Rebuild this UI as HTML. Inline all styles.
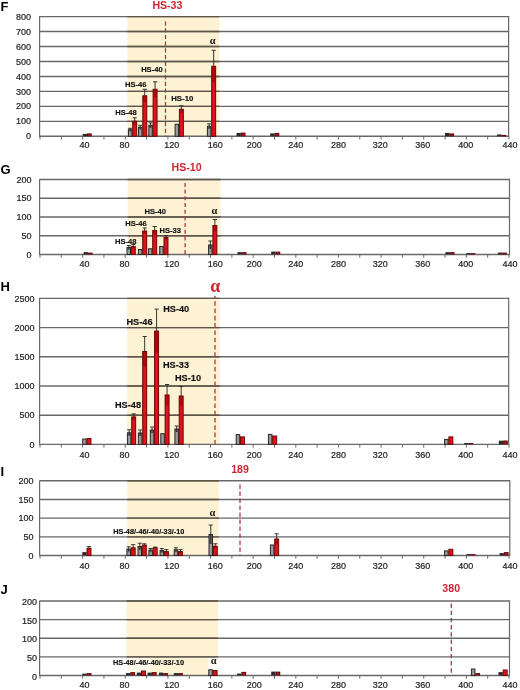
<!DOCTYPE html>
<html><head><meta charset="utf-8"><title>Chart</title>
<style>
html,body{margin:0;padding:0;background:#fff;}
body{width:520px;height:690px;overflow:hidden;}
svg{display:block;will-change:transform;}
.g{stroke:#686868;stroke-width:1.4;fill:none;}
.gs{stroke:#5e5446;stroke-width:1.4;fill:none;}
.t{stroke:#686868;stroke-width:1;}
.d{stroke:#b0303e;stroke-width:1.25;}
.gb{fill:#9a9a9a;stroke:#262626;stroke-width:1;}
.rb{fill:#e0101c;stroke:#6a0808;stroke-width:1;}
.eg{stroke:#2a2a2a;stroke-width:0.95;fill:none;}
.er{stroke:#2a2a2a;stroke-width:0.95;fill:none;}
text{font-family:"Liberation Sans",sans-serif;}
.yl,.xl{font-size:9px;fill:#222;stroke:#222;stroke-width:0.2;}
.pl{font-size:13px;font-weight:bold;fill:#000;}
.rt{font-weight:bold;fill:#cf2430;}
.bl{font-weight:bold;fill:#111;stroke:#111;stroke-width:0.15;}
.al{font-family:"Liberation Serif",serif;font-weight:bold;fill:#111;}
.ba{font-family:"Liberation Serif",serif;font-weight:bold;fill:#cf2430;}
</style></head>
<body>
<svg width="520" height="690" viewBox="0 0 520 690">
<rect x="127.3" y="16.6" width="92.1" height="119.7" fill="#fdf2d4"/>
<line x1="40" y1="16.6" x2="508.6" y2="16.6" class="g"/>
<line x1="127.3" y1="16.6" x2="219.4" y2="16.6" class="gs"/>
<line x1="40" y1="31.56" x2="508.6" y2="31.56" class="g"/>
<line x1="127.3" y1="31.56" x2="219.4" y2="31.56" class="gs"/>
<line x1="40" y1="46.53" x2="508.6" y2="46.53" class="g"/>
<line x1="127.3" y1="46.53" x2="219.4" y2="46.53" class="gs"/>
<line x1="40" y1="61.49" x2="508.6" y2="61.49" class="g"/>
<line x1="127.3" y1="61.49" x2="219.4" y2="61.49" class="gs"/>
<line x1="40" y1="76.45" x2="508.6" y2="76.45" class="g"/>
<line x1="127.3" y1="76.45" x2="219.4" y2="76.45" class="gs"/>
<line x1="40" y1="91.41" x2="508.6" y2="91.41" class="g"/>
<line x1="127.3" y1="91.41" x2="219.4" y2="91.41" class="gs"/>
<line x1="40" y1="106.38" x2="508.6" y2="106.38" class="g"/>
<line x1="127.3" y1="106.38" x2="219.4" y2="106.38" class="gs"/>
<line x1="40" y1="121.34" x2="508.6" y2="121.34" class="g"/>
<line x1="127.3" y1="121.34" x2="219.4" y2="121.34" class="gs"/>
<line x1="39.6" y1="16" x2="39.6" y2="136.9" class="g" style="stroke-width:1.2"/>
<line x1="508.6" y1="16" x2="508.6" y2="136.9" class="g" style="stroke-width:1.2"/>
<line x1="40" y1="136.3" x2="508.6" y2="136.3" class="g"/>
<line x1="40" y1="136.3" x2="40" y2="139.5" class="t"/>
<line x1="61.32" y1="136.3" x2="61.32" y2="139.5" class="t"/>
<line x1="82.64" y1="136.3" x2="82.64" y2="139.5" class="t"/>
<line x1="103.95" y1="136.3" x2="103.95" y2="139.5" class="t"/>
<line x1="125.27" y1="136.3" x2="125.27" y2="139.5" class="t"/>
<line x1="146.59" y1="136.3" x2="146.59" y2="139.5" class="t"/>
<line x1="167.91" y1="136.3" x2="167.91" y2="139.5" class="t"/>
<line x1="189.23" y1="136.3" x2="189.23" y2="139.5" class="t"/>
<line x1="210.55" y1="136.3" x2="210.55" y2="139.5" class="t"/>
<line x1="231.86" y1="136.3" x2="231.86" y2="139.5" class="t"/>
<line x1="253.18" y1="136.3" x2="253.18" y2="139.5" class="t"/>
<line x1="274.5" y1="136.3" x2="274.5" y2="139.5" class="t"/>
<line x1="295.82" y1="136.3" x2="295.82" y2="139.5" class="t"/>
<line x1="317.14" y1="136.3" x2="317.14" y2="139.5" class="t"/>
<line x1="338.45" y1="136.3" x2="338.45" y2="139.5" class="t"/>
<line x1="359.77" y1="136.3" x2="359.77" y2="139.5" class="t"/>
<line x1="381.09" y1="136.3" x2="381.09" y2="139.5" class="t"/>
<line x1="402.41" y1="136.3" x2="402.41" y2="139.5" class="t"/>
<line x1="423.73" y1="136.3" x2="423.73" y2="139.5" class="t"/>
<line x1="445.05" y1="136.3" x2="445.05" y2="139.5" class="t"/>
<line x1="466.36" y1="136.3" x2="466.36" y2="139.5" class="t"/>
<line x1="487.68" y1="136.3" x2="487.68" y2="139.5" class="t"/>
<line x1="509" y1="136.3" x2="509" y2="139.5" class="t"/>
<line x1="165.5" y1="21.5" x2="165.5" y2="136.3" class="d" stroke-dasharray="4.2 2.5" stroke-dashoffset="0"/>
<rect x="82.7" y="133.9" width="4.3" height="2.4" fill="#2a2a2a"/>
<rect x="87" y="133.4" width="4.75" height="2.9" fill="#5a0a0e"/>
<rect x="88.2" y="134.4" width="2.35" height="1.3" fill="#c01020"/>
<rect x="128.4" y="129.8" width="3.5" height="6.5" class="gb"/>
<rect x="128.6" y="129.8" width="3.1" height="1.5" fill="#333" opacity="0.45"/>
<path d="M130.15 131.3V128.3M128.15 128.3H132.15" class="eg"/>
<rect x="132.7" y="121.3" width="3.95" height="15" class="rb"/>
<rect x="132.9" y="121.3" width="3.55" height="3.5" fill="#8a0000" opacity="0.55"/>
<path d="M134.68 121.3V117.8M132.58 117.8H136.78" class="er"/>
<rect x="138.5" y="127.3" width="3.5" height="9" class="gb"/>
<rect x="138.7" y="127.3" width="3.1" height="2" fill="#333" opacity="0.45"/>
<path d="M140.25 129.3V125.3M138.25 125.3H142.25" class="eg"/>
<rect x="142.8" y="95.8" width="3.95" height="40.5" class="rb"/>
<rect x="143" y="95.8" width="3.55" height="6.5" fill="#8a0000" opacity="0.55"/>
<path d="M144.78 95.8V89.3M142.68 89.3H146.88" class="er"/>
<rect x="148.8" y="125.3" width="3.5" height="11" class="gb"/>
<rect x="149" y="125.3" width="3.1" height="2.5" fill="#333" opacity="0.45"/>
<path d="M150.55 127.8V122.8M148.55 122.8H152.55" class="eg"/>
<rect x="153.1" y="89.3" width="3.95" height="47" class="rb"/>
<rect x="153.3" y="89.3" width="3.55" height="7.5" fill="#8a0000" opacity="0.55"/>
<path d="M155.08 89.3V81.8M152.98 81.8H157.18" class="er"/>
<rect x="175.1" y="124.3" width="3.5" height="12" class="gb"/>
<rect x="179.4" y="109.3" width="3.95" height="27" class="rb"/>
<rect x="179.6" y="109.3" width="3.55" height="3.5" fill="#8a0000" opacity="0.55"/>
<path d="M181.38 109.3V105.8M179.28 105.8H183.47" class="er"/>
<rect x="207.4" y="126.3" width="3.5" height="10" class="gb"/>
<rect x="207.6" y="126.3" width="3.1" height="2.5" fill="#333" opacity="0.45"/>
<path d="M209.15 128.8V123.8M207.15 123.8H211.15" class="eg"/>
<rect x="211.7" y="66.3" width="3.95" height="70" class="rb"/>
<rect x="211.9" y="66.3" width="3.55" height="16" fill="#8a0000" opacity="0.55"/>
<path d="M213.68 66.3V50.3M211.58 50.3H215.78" class="er"/>
<rect x="236.5" y="132.9" width="4.3" height="3.4" fill="#2a2a2a"/>
<rect x="240.8" y="132.6" width="4.75" height="3.7" fill="#5a0a0e"/>
<rect x="242" y="133.6" width="2.35" height="2.1" fill="#c01020"/>
<rect x="270.2" y="133.4" width="4.3" height="2.9" fill="#2a2a2a"/>
<rect x="274.5" y="132.9" width="4.75" height="3.4" fill="#5a0a0e"/>
<rect x="275.7" y="133.9" width="2.35" height="1.8" fill="#c01020"/>
<rect x="445" y="132.9" width="4.3" height="3.4" fill="#2a2a2a"/>
<rect x="449.3" y="133.4" width="4.75" height="2.9" fill="#5a0a0e"/>
<rect x="450.5" y="134.4" width="2.35" height="1.3" fill="#c01020"/>
<rect x="497.1" y="134.4" width="4.3" height="1.9" fill="#2a2a2a"/>
<rect x="501.4" y="134.9" width="4.75" height="1.4" fill="#5a0a0e"/>
<rect x="502.6" y="135.9" width="2.35" height="0.6" fill="#c01020"/>
<text x="31.1" y="139.4" class="yl" text-anchor="end">0</text>
<text x="31.1" y="124.44" class="yl" text-anchor="end">100</text>
<text x="31.1" y="109.47" class="yl" text-anchor="end">200</text>
<text x="31.1" y="94.51" class="yl" text-anchor="end">300</text>
<text x="31.1" y="79.55" class="yl" text-anchor="end">400</text>
<text x="31.1" y="64.59" class="yl" text-anchor="end">500</text>
<text x="31.1" y="49.63" class="yl" text-anchor="end">600</text>
<text x="31.1" y="34.66" class="yl" text-anchor="end">700</text>
<text x="31.1" y="19.7" class="yl" text-anchor="end">800</text>
<text x="84.44" y="148.3" class="xl" text-anchor="middle">40</text>
<text x="124.57" y="148.3" class="xl" text-anchor="middle">80</text>
<text x="171.71" y="148.3" class="xl" text-anchor="middle">120</text>
<text x="215.15" y="148.3" class="xl" text-anchor="middle">160</text>
<text x="254.18" y="148.3" class="xl" text-anchor="middle">200</text>
<text x="295.82" y="148.3" class="xl" text-anchor="middle">240</text>
<text x="338.45" y="148.3" class="xl" text-anchor="middle">280</text>
<text x="380.39" y="148.3" class="xl" text-anchor="middle">320</text>
<text x="422.83" y="148.3" class="xl" text-anchor="middle">360</text>
<text x="465.66" y="148.3" class="xl" text-anchor="middle">400</text>
<text x="510" y="148.3" class="xl" text-anchor="middle">440</text>
<text x="0.6" y="11.3" class="pl">F</text>
<text x="167.4" y="9.2" class="rt" style="font-size:10.6px" text-anchor="middle">HS-33</text>
<text x="126" y="114.9" class="bl" style="font-size:7.6px" text-anchor="middle">HS-48</text>
<text x="135.7" y="86.7" class="bl" style="font-size:7.6px" text-anchor="middle">HS-46</text>
<text x="151.9" y="72" class="bl" style="font-size:7.6px" text-anchor="middle">HS-40</text>
<text x="182.3" y="101.2" class="bl" style="font-size:7.8px" text-anchor="middle">HS-10</text>
<text x="212.6" y="43.7" class="al" style="font-size:10.5px" text-anchor="middle">&#945;</text>
<rect x="127.7" y="179.5" width="92.8" height="75" fill="#fdf2d4"/>
<line x1="40" y1="179.5" x2="509.5" y2="179.5" class="g"/>
<line x1="127.7" y1="179.5" x2="220.5" y2="179.5" class="gs"/>
<line x1="40" y1="198.25" x2="509.5" y2="198.25" class="g"/>
<line x1="127.7" y1="198.25" x2="220.5" y2="198.25" class="gs"/>
<line x1="40" y1="217" x2="509.5" y2="217" class="g"/>
<line x1="127.7" y1="217" x2="220.5" y2="217" class="gs"/>
<line x1="40" y1="235.75" x2="509.5" y2="235.75" class="g"/>
<line x1="127.7" y1="235.75" x2="220.5" y2="235.75" class="gs"/>
<line x1="39.6" y1="178.9" x2="39.6" y2="255.1" class="g" style="stroke-width:1.2"/>
<line x1="509.5" y1="178.9" x2="509.5" y2="255.1" class="g" style="stroke-width:1.2"/>
<line x1="40" y1="254.5" x2="509.5" y2="254.5" class="g"/>
<line x1="40" y1="254.5" x2="40" y2="257.7" class="t"/>
<line x1="61.32" y1="254.5" x2="61.32" y2="257.7" class="t"/>
<line x1="82.64" y1="254.5" x2="82.64" y2="257.7" class="t"/>
<line x1="103.95" y1="254.5" x2="103.95" y2="257.7" class="t"/>
<line x1="125.27" y1="254.5" x2="125.27" y2="257.7" class="t"/>
<line x1="146.59" y1="254.5" x2="146.59" y2="257.7" class="t"/>
<line x1="167.91" y1="254.5" x2="167.91" y2="257.7" class="t"/>
<line x1="189.23" y1="254.5" x2="189.23" y2="257.7" class="t"/>
<line x1="210.55" y1="254.5" x2="210.55" y2="257.7" class="t"/>
<line x1="231.86" y1="254.5" x2="231.86" y2="257.7" class="t"/>
<line x1="253.18" y1="254.5" x2="253.18" y2="257.7" class="t"/>
<line x1="274.5" y1="254.5" x2="274.5" y2="257.7" class="t"/>
<line x1="295.82" y1="254.5" x2="295.82" y2="257.7" class="t"/>
<line x1="317.14" y1="254.5" x2="317.14" y2="257.7" class="t"/>
<line x1="338.45" y1="254.5" x2="338.45" y2="257.7" class="t"/>
<line x1="359.77" y1="254.5" x2="359.77" y2="257.7" class="t"/>
<line x1="381.09" y1="254.5" x2="381.09" y2="257.7" class="t"/>
<line x1="402.41" y1="254.5" x2="402.41" y2="257.7" class="t"/>
<line x1="423.73" y1="254.5" x2="423.73" y2="257.7" class="t"/>
<line x1="445.05" y1="254.5" x2="445.05" y2="257.7" class="t"/>
<line x1="466.36" y1="254.5" x2="466.36" y2="257.7" class="t"/>
<line x1="487.68" y1="254.5" x2="487.68" y2="257.7" class="t"/>
<line x1="509" y1="254.5" x2="509" y2="257.7" class="t"/>
<line x1="185.1" y1="182.9" x2="185.1" y2="254.5" class="d" stroke-dasharray="4 2.7" stroke-dashoffset="0"/>
<rect x="83.6" y="252.1" width="4.3" height="2.4" fill="#2a2a2a"/>
<rect x="87.9" y="252.6" width="4.75" height="1.9" fill="#5a0a0e"/>
<rect x="89.1" y="253.6" width="2.35" height="0.6" fill="#c01020"/>
<rect x="127" y="247.5" width="3.5" height="7" class="gb"/>
<rect x="127.2" y="247.5" width="3.1" height="2" fill="#333" opacity="0.45"/>
<path d="M128.75 249.5V245.5M126.75 245.5H130.75" class="eg"/>
<rect x="131.3" y="246.5" width="3.95" height="8" class="rb"/>
<rect x="131.5" y="246.5" width="3.55" height="2" fill="#8a0000" opacity="0.55"/>
<path d="M133.28 246.5V244.5M131.18 244.5H135.38" class="er"/>
<rect x="138.4" y="249.5" width="3.5" height="5" class="gb"/>
<rect x="142.7" y="231" width="3.95" height="23.5" class="rb"/>
<rect x="142.9" y="231" width="3.55" height="3" fill="#8a0000" opacity="0.55"/>
<path d="M144.68 231V228M142.58 228H146.78" class="er"/>
<rect x="148.4" y="248.8" width="3.5" height="5.7" class="gb"/>
<rect x="152.7" y="230.5" width="3.95" height="24" class="rb"/>
<rect x="152.9" y="230.5" width="3.55" height="4" fill="#8a0000" opacity="0.55"/>
<path d="M154.68 230.5V226.5M152.58 226.5H156.78" class="er"/>
<rect x="159.7" y="246.5" width="3.5" height="8" class="gb"/>
<rect x="164" y="237.5" width="3.95" height="17" class="rb"/>
<rect x="164.2" y="237.5" width="3.55" height="2" fill="#8a0000" opacity="0.55"/>
<path d="M165.98 237.5V235.5M163.88 235.5H168.08" class="er"/>
<rect x="208.6" y="245" width="3.5" height="9.5" class="gb"/>
<rect x="208.8" y="245" width="3.1" height="4" fill="#333" opacity="0.45"/>
<path d="M210.35 249V241M208.35 241H212.35" class="eg"/>
<rect x="212.9" y="225.5" width="3.95" height="29" class="rb"/>
<rect x="213.1" y="225.5" width="3.55" height="6" fill="#8a0000" opacity="0.55"/>
<path d="M214.88 225.5V219.5M212.78 219.5H216.97" class="er"/>
<rect x="237.5" y="252.1" width="4.3" height="2.4" fill="#2a2a2a"/>
<rect x="241.8" y="252.1" width="4.75" height="2.4" fill="#5a0a0e"/>
<rect x="243" y="253.1" width="2.35" height="0.8" fill="#c01020"/>
<rect x="271.2" y="251.6" width="4.3" height="2.9" fill="#2a2a2a"/>
<rect x="275.5" y="251.6" width="4.75" height="2.9" fill="#5a0a0e"/>
<rect x="276.7" y="252.6" width="2.35" height="1.3" fill="#c01020"/>
<rect x="445.5" y="252.1" width="4.3" height="2.4" fill="#2a2a2a"/>
<rect x="449.8" y="252.1" width="4.75" height="2.4" fill="#5a0a0e"/>
<rect x="451" y="253.1" width="2.35" height="0.8" fill="#c01020"/>
<rect x="466.3" y="253.1" width="4.3" height="1.4" fill="#2a2a2a"/>
<rect x="470.6" y="253.1" width="4.75" height="1.4" fill="#5a0a0e"/>
<rect x="471.8" y="254.1" width="2.35" height="0.6" fill="#c01020"/>
<rect x="497.8" y="252.6" width="4.3" height="1.9" fill="#2a2a2a"/>
<rect x="502.1" y="252.6" width="4.75" height="1.9" fill="#5a0a0e"/>
<rect x="503.3" y="253.6" width="2.35" height="0.6" fill="#c01020"/>
<text x="31.6" y="257.6" class="yl" text-anchor="end">0</text>
<text x="31.6" y="238.85" class="yl" text-anchor="end">50</text>
<text x="31.6" y="220.1" class="yl" text-anchor="end">100</text>
<text x="31.6" y="201.35" class="yl" text-anchor="end">150</text>
<text x="31.6" y="182.6" class="yl" text-anchor="end">200</text>
<text x="84.44" y="267.3" class="xl" text-anchor="middle">40</text>
<text x="124.57" y="267.3" class="xl" text-anchor="middle">80</text>
<text x="171.71" y="267.3" class="xl" text-anchor="middle">120</text>
<text x="215.15" y="267.3" class="xl" text-anchor="middle">160</text>
<text x="254.18" y="267.3" class="xl" text-anchor="middle">200</text>
<text x="295.82" y="267.3" class="xl" text-anchor="middle">240</text>
<text x="338.45" y="267.3" class="xl" text-anchor="middle">280</text>
<text x="380.39" y="267.3" class="xl" text-anchor="middle">320</text>
<text x="422.83" y="267.3" class="xl" text-anchor="middle">360</text>
<text x="465.66" y="267.3" class="xl" text-anchor="middle">400</text>
<text x="510" y="267.3" class="xl" text-anchor="middle">440</text>
<text x="0.6" y="174" class="pl">G</text>
<text x="186.6" y="171.3" class="rt" style="font-size:10.6px" text-anchor="middle">HS-10</text>
<text x="125.8" y="244.3" class="bl" style="font-size:7.6px" text-anchor="middle">HS-48</text>
<text x="136" y="225.8" class="bl" style="font-size:7.6px" text-anchor="middle">HS-46</text>
<text x="155.3" y="214.1" class="bl" style="font-size:7.6px" text-anchor="middle">HS-40</text>
<text x="170.3" y="232.7" class="bl" style="font-size:7.6px" text-anchor="middle">HS-33</text>
<text x="214.4" y="213.6" class="al" style="font-size:10.5px" text-anchor="middle">&#945;</text>
<rect x="127.2" y="298.4" width="92.4" height="146" fill="#fdf2d4"/>
<line x1="40" y1="298.4" x2="508.7" y2="298.4" class="g"/>
<line x1="127.2" y1="298.4" x2="219.6" y2="298.4" class="gs"/>
<line x1="40" y1="327.6" x2="508.7" y2="327.6" class="g"/>
<line x1="127.2" y1="327.6" x2="219.6" y2="327.6" class="gs"/>
<line x1="40" y1="356.8" x2="508.7" y2="356.8" class="g"/>
<line x1="127.2" y1="356.8" x2="219.6" y2="356.8" class="gs"/>
<line x1="40" y1="386" x2="508.7" y2="386" class="g"/>
<line x1="127.2" y1="386" x2="219.6" y2="386" class="gs"/>
<line x1="40" y1="415.2" x2="508.7" y2="415.2" class="g"/>
<line x1="127.2" y1="415.2" x2="219.6" y2="415.2" class="gs"/>
<line x1="39.6" y1="297.8" x2="39.6" y2="445" class="g" style="stroke-width:1.2"/>
<line x1="508.7" y1="297.8" x2="508.7" y2="445" class="g" style="stroke-width:1.2"/>
<line x1="40" y1="444.4" x2="508.7" y2="444.4" class="g"/>
<line x1="40" y1="444.4" x2="40" y2="447.6" class="t"/>
<line x1="61.32" y1="444.4" x2="61.32" y2="447.6" class="t"/>
<line x1="82.64" y1="444.4" x2="82.64" y2="447.6" class="t"/>
<line x1="103.95" y1="444.4" x2="103.95" y2="447.6" class="t"/>
<line x1="125.27" y1="444.4" x2="125.27" y2="447.6" class="t"/>
<line x1="146.59" y1="444.4" x2="146.59" y2="447.6" class="t"/>
<line x1="167.91" y1="444.4" x2="167.91" y2="447.6" class="t"/>
<line x1="189.23" y1="444.4" x2="189.23" y2="447.6" class="t"/>
<line x1="210.55" y1="444.4" x2="210.55" y2="447.6" class="t"/>
<line x1="231.86" y1="444.4" x2="231.86" y2="447.6" class="t"/>
<line x1="253.18" y1="444.4" x2="253.18" y2="447.6" class="t"/>
<line x1="274.5" y1="444.4" x2="274.5" y2="447.6" class="t"/>
<line x1="295.82" y1="444.4" x2="295.82" y2="447.6" class="t"/>
<line x1="317.14" y1="444.4" x2="317.14" y2="447.6" class="t"/>
<line x1="338.45" y1="444.4" x2="338.45" y2="447.6" class="t"/>
<line x1="359.77" y1="444.4" x2="359.77" y2="447.6" class="t"/>
<line x1="381.09" y1="444.4" x2="381.09" y2="447.6" class="t"/>
<line x1="402.41" y1="444.4" x2="402.41" y2="447.6" class="t"/>
<line x1="423.73" y1="444.4" x2="423.73" y2="447.6" class="t"/>
<line x1="445.05" y1="444.4" x2="445.05" y2="447.6" class="t"/>
<line x1="466.36" y1="444.4" x2="466.36" y2="447.6" class="t"/>
<line x1="487.68" y1="444.4" x2="487.68" y2="447.6" class="t"/>
<line x1="509" y1="444.4" x2="509" y2="447.6" class="t"/>
<line x1="215" y1="295.8" x2="215" y2="444.4" class="d" stroke-dasharray="4.6 2.7" stroke-dashoffset="1.9"/>
<rect x="82.7" y="439.1" width="3.5" height="5.3" class="gb"/>
<rect x="87" y="438.5" width="3.95" height="5.9" class="rb"/>
<rect x="127.4" y="432.8" width="3.5" height="11.6" class="gb"/>
<rect x="127.6" y="432.8" width="3.1" height="3" fill="#333" opacity="0.45"/>
<path d="M129.15 435.8V429.8M127.15 429.8H131.15" class="eg"/>
<rect x="131.7" y="416.9" width="3.95" height="27.5" class="rb"/>
<rect x="131.9" y="416.9" width="3.55" height="3" fill="#8a0000" opacity="0.55"/>
<path d="M133.68 416.9V413.9M131.58 413.9H135.78" class="er"/>
<rect x="138.4" y="433" width="3.5" height="11.4" class="gb"/>
<rect x="138.6" y="433" width="3.1" height="3" fill="#333" opacity="0.45"/>
<path d="M140.15 436V430M138.15 430H142.15" class="eg"/>
<rect x="142.7" y="351.5" width="3.95" height="92.9" class="rb"/>
<rect x="142.9" y="351.5" width="3.55" height="15" fill="#8a0000" opacity="0.55"/>
<path d="M144.68 351.5V336.5M142.58 336.5H146.78" class="er"/>
<rect x="150.3" y="430.1" width="3.5" height="14.3" class="gb"/>
<rect x="150.5" y="430.1" width="3.1" height="3" fill="#333" opacity="0.45"/>
<path d="M152.05 433.1V427.1M150.05 427.1H154.05" class="eg"/>
<rect x="154.6" y="331.1" width="3.95" height="113.3" class="rb"/>
<rect x="154.8" y="331.1" width="3.55" height="22" fill="#8a0000" opacity="0.55"/>
<path d="M156.58 331.1V309.1M154.48 309.1H158.68" class="er"/>
<rect x="160.8" y="433.7" width="3.5" height="10.7" class="gb"/>
<rect x="165.1" y="395" width="3.95" height="49.4" class="rb"/>
<rect x="165.3" y="395" width="3.55" height="10.5" fill="#8a0000" opacity="0.55"/>
<path d="M167.08 395V384.5M164.98 384.5H169.18" class="er"/>
<rect x="174.9" y="429" width="3.5" height="15.4" class="gb"/>
<rect x="175.1" y="429" width="3.1" height="3" fill="#333" opacity="0.45"/>
<path d="M176.65 432V426M174.65 426H178.65" class="eg"/>
<rect x="179.2" y="396" width="3.95" height="48.4" class="rb"/>
<rect x="179.4" y="396" width="3.55" height="9.5" fill="#8a0000" opacity="0.55"/>
<path d="M181.18 396V386.5M179.08 386.5H183.28" class="er"/>
<rect x="236.2" y="434.6" width="3.5" height="9.8" class="gb"/>
<rect x="240.5" y="436.9" width="3.95" height="7.5" class="rb"/>
<rect x="268.4" y="434.4" width="3.5" height="10" class="gb"/>
<rect x="272.7" y="436" width="3.95" height="8.4" class="rb"/>
<rect x="444.6" y="439.4" width="3.5" height="5" class="gb"/>
<rect x="448.9" y="436.9" width="3.95" height="7.5" class="rb"/>
<rect x="464.2" y="443" width="4.3" height="1.4" fill="#2a2a2a"/>
<rect x="468.5" y="443" width="4.75" height="1.4" fill="#5a0a0e"/>
<rect x="469.7" y="444" width="2.35" height="0.6" fill="#c01020"/>
<rect x="498.8" y="440.7" width="4.3" height="3.7" fill="#2a2a2a"/>
<rect x="503.1" y="440.5" width="4.75" height="3.9" fill="#5a0a0e"/>
<rect x="504.3" y="441.5" width="2.35" height="2.3" fill="#c01020"/>
<text x="34.5" y="447.5" class="yl" text-anchor="end">0</text>
<text x="34.5" y="418.3" class="yl" text-anchor="end">500</text>
<text x="34.5" y="389.1" class="yl" text-anchor="end">1000</text>
<text x="34.5" y="359.9" class="yl" text-anchor="end">1500</text>
<text x="34.5" y="330.7" class="yl" text-anchor="end">2000</text>
<text x="34.5" y="301.5" class="yl" text-anchor="end">2500</text>
<text x="84.44" y="457.9" class="xl" text-anchor="middle">40</text>
<text x="124.57" y="457.9" class="xl" text-anchor="middle">80</text>
<text x="171.71" y="457.9" class="xl" text-anchor="middle">120</text>
<text x="215.15" y="457.9" class="xl" text-anchor="middle">160</text>
<text x="254.18" y="457.9" class="xl" text-anchor="middle">200</text>
<text x="295.82" y="457.9" class="xl" text-anchor="middle">240</text>
<text x="338.45" y="457.9" class="xl" text-anchor="middle">280</text>
<text x="380.39" y="457.9" class="xl" text-anchor="middle">320</text>
<text x="422.83" y="457.9" class="xl" text-anchor="middle">360</text>
<text x="465.66" y="457.9" class="xl" text-anchor="middle">400</text>
<text x="510" y="457.9" class="xl" text-anchor="middle">440</text>
<text x="0.6" y="290.7" class="pl">H</text>
<text x="128" y="408.3" class="bl" style="font-size:9.2px" text-anchor="middle">HS-48</text>
<text x="139.5" y="324.9" class="bl" style="font-size:9.2px" text-anchor="middle">HS-46</text>
<text x="176.2" y="312" class="bl" style="font-size:9.2px" text-anchor="middle">HS-40</text>
<text x="176" y="368.4" class="bl" style="font-size:9.2px" text-anchor="middle">HS-33</text>
<text x="188" y="380.6" class="bl" style="font-size:9.2px" text-anchor="middle">HS-10</text>
<text x="215.2" y="291.7" class="ba" style="font-size:18px" text-anchor="middle">&#945;</text>
<rect x="127.2" y="480.8" width="91.8" height="74.7" fill="#fdf2d4"/>
<line x1="40" y1="480.8" x2="509.8" y2="480.8" class="g"/>
<line x1="127.2" y1="480.8" x2="219" y2="480.8" class="gs"/>
<line x1="40" y1="499.48" x2="509.8" y2="499.48" class="g"/>
<line x1="127.2" y1="499.48" x2="219" y2="499.48" class="gs"/>
<line x1="40" y1="518.15" x2="509.8" y2="518.15" class="g"/>
<line x1="127.2" y1="518.15" x2="219" y2="518.15" class="gs"/>
<line x1="40" y1="536.83" x2="509.8" y2="536.83" class="g"/>
<line x1="127.2" y1="536.83" x2="219" y2="536.83" class="gs"/>
<line x1="39.6" y1="480.2" x2="39.6" y2="556.1" class="g" style="stroke-width:1.2"/>
<line x1="509.8" y1="480.2" x2="509.8" y2="556.1" class="g" style="stroke-width:1.2"/>
<line x1="40" y1="555.5" x2="509.8" y2="555.5" class="g"/>
<line x1="40" y1="555.5" x2="40" y2="558.7" class="t"/>
<line x1="61.32" y1="555.5" x2="61.32" y2="558.7" class="t"/>
<line x1="82.64" y1="555.5" x2="82.64" y2="558.7" class="t"/>
<line x1="103.95" y1="555.5" x2="103.95" y2="558.7" class="t"/>
<line x1="125.27" y1="555.5" x2="125.27" y2="558.7" class="t"/>
<line x1="146.59" y1="555.5" x2="146.59" y2="558.7" class="t"/>
<line x1="167.91" y1="555.5" x2="167.91" y2="558.7" class="t"/>
<line x1="189.23" y1="555.5" x2="189.23" y2="558.7" class="t"/>
<line x1="210.55" y1="555.5" x2="210.55" y2="558.7" class="t"/>
<line x1="231.86" y1="555.5" x2="231.86" y2="558.7" class="t"/>
<line x1="253.18" y1="555.5" x2="253.18" y2="558.7" class="t"/>
<line x1="274.5" y1="555.5" x2="274.5" y2="558.7" class="t"/>
<line x1="295.82" y1="555.5" x2="295.82" y2="558.7" class="t"/>
<line x1="317.14" y1="555.5" x2="317.14" y2="558.7" class="t"/>
<line x1="338.45" y1="555.5" x2="338.45" y2="558.7" class="t"/>
<line x1="359.77" y1="555.5" x2="359.77" y2="558.7" class="t"/>
<line x1="381.09" y1="555.5" x2="381.09" y2="558.7" class="t"/>
<line x1="402.41" y1="555.5" x2="402.41" y2="558.7" class="t"/>
<line x1="423.73" y1="555.5" x2="423.73" y2="558.7" class="t"/>
<line x1="445.05" y1="555.5" x2="445.05" y2="558.7" class="t"/>
<line x1="466.36" y1="555.5" x2="466.36" y2="558.7" class="t"/>
<line x1="487.68" y1="555.5" x2="487.68" y2="558.7" class="t"/>
<line x1="509" y1="555.5" x2="509" y2="558.7" class="t"/>
<line x1="240" y1="484.4" x2="240" y2="555.5" class="d" stroke-dasharray="4.6 2.4" stroke-dashoffset="0"/>
<rect x="82.3" y="552.1" width="4.3" height="3.4" fill="#2a2a2a"/>
<rect x="87" y="548.3" width="3.95" height="7.2" class="rb"/>
<rect x="87.2" y="548.3" width="3.55" height="1.7" fill="#8a0000" opacity="0.55"/>
<path d="M88.97 548.3V546.6M86.88 546.6H91.07" class="er"/>
<rect x="126.9" y="549.1" width="3.5" height="6.4" class="gb"/>
<rect x="127.1" y="549.1" width="3.1" height="2.3" fill="#333" opacity="0.45"/>
<path d="M128.65 551.4V546.8M126.65 546.8H130.65" class="eg"/>
<rect x="131.2" y="547.8" width="3.95" height="7.7" class="rb"/>
<rect x="131.4" y="547.8" width="3.55" height="3.1" fill="#8a0000" opacity="0.55"/>
<path d="M133.18 547.8V544.7M131.08 544.7H135.28" class="er"/>
<rect x="138" y="546.5" width="3.5" height="9" class="gb"/>
<rect x="138.2" y="546.5" width="3.1" height="3.3" fill="#333" opacity="0.45"/>
<path d="M139.75 549.8V543.2M137.75 543.2H141.75" class="eg"/>
<rect x="142.3" y="545.1" width="3.95" height="10.4" class="rb"/>
<rect x="142.5" y="545.1" width="3.55" height="1.3" fill="#8a0000" opacity="0.55"/>
<path d="M144.28 545.1V543.8M142.18 543.8H146.38" class="er"/>
<rect x="148.9" y="550.1" width="3.5" height="5.4" class="gb"/>
<rect x="149.1" y="550.1" width="3.1" height="1.6" fill="#333" opacity="0.45"/>
<path d="M150.65 551.7V548.5M148.65 548.5H152.65" class="eg"/>
<rect x="153.2" y="547.8" width="3.95" height="7.7" class="rb"/>
<rect x="153.4" y="547.8" width="3.55" height="0.7" fill="#8a0000" opacity="0.55"/>
<path d="M155.18 547.8V547.1M153.08 547.1H157.28" class="er"/>
<rect x="160.1" y="550.5" width="3.5" height="5" class="gb"/>
<rect x="160.3" y="550.5" width="3.1" height="2" fill="#333" opacity="0.45"/>
<path d="M161.85 552.5V548.5M159.85 548.5H163.85" class="eg"/>
<rect x="164.4" y="551.6" width="3.95" height="3.9" class="rb"/>
<rect x="164.6" y="551.6" width="3.55" height="2" fill="#8a0000" opacity="0.55"/>
<path d="M166.38 551.6V549.6M164.28 549.6H168.47" class="er"/>
<rect x="174.2" y="549.8" width="3.5" height="5.7" class="gb"/>
<rect x="174.4" y="549.8" width="3.1" height="2" fill="#333" opacity="0.45"/>
<path d="M175.95 551.8V547.8M173.95 547.8H177.95" class="eg"/>
<rect x="178.5" y="551.6" width="3.95" height="3.9" class="rb"/>
<rect x="178.7" y="551.6" width="3.55" height="2" fill="#8a0000" opacity="0.55"/>
<path d="M180.48 551.6V549.6M178.38 549.6H182.58" class="er"/>
<rect x="209" y="534.5" width="3.5" height="21" class="gb"/>
<rect x="209.2" y="534.5" width="3.1" height="9.5" fill="#333" opacity="0.45"/>
<path d="M210.75 544V525M208.75 525H212.75" class="eg"/>
<rect x="213.3" y="546.2" width="3.95" height="9.3" class="rb"/>
<rect x="213.5" y="546.2" width="3.55" height="2.4" fill="#8a0000" opacity="0.55"/>
<path d="M215.28 546.2V543.8M213.18 543.8H217.38" class="er"/>
<rect x="270.4" y="545" width="3.5" height="10.5" class="gb"/>
<rect x="274.7" y="539" width="3.95" height="16.5" class="rb"/>
<rect x="274.9" y="539" width="3.55" height="5.2" fill="#8a0000" opacity="0.55"/>
<path d="M276.68 539V533.8M274.57 533.8H278.78" class="er"/>
<rect x="444.6" y="550.9" width="3.5" height="4.6" class="gb"/>
<rect x="448.9" y="549.3" width="3.95" height="6.2" class="rb"/>
<rect x="466.5" y="554.1" width="4.3" height="1.4" fill="#2a2a2a"/>
<rect x="470.8" y="554.1" width="4.75" height="1.4" fill="#5a0a0e"/>
<rect x="472" y="555.1" width="2.35" height="0.6" fill="#c01020"/>
<rect x="499.6" y="553.1" width="4.3" height="2.4" fill="#2a2a2a"/>
<rect x="503.9" y="552.1" width="4.75" height="3.4" fill="#5a0a0e"/>
<rect x="505.1" y="553.1" width="2.35" height="1.8" fill="#c01020"/>
<text x="33.6" y="558.6" class="yl" text-anchor="end">0</text>
<text x="33.6" y="539.93" class="yl" text-anchor="end">50</text>
<text x="33.6" y="521.25" class="yl" text-anchor="end">100</text>
<text x="33.6" y="502.58" class="yl" text-anchor="end">150</text>
<text x="33.6" y="483.9" class="yl" text-anchor="end">200</text>
<text x="84.44" y="568.5" class="xl" text-anchor="middle">40</text>
<text x="124.57" y="568.5" class="xl" text-anchor="middle">80</text>
<text x="171.71" y="568.5" class="xl" text-anchor="middle">120</text>
<text x="215.15" y="568.5" class="xl" text-anchor="middle">160</text>
<text x="254.18" y="568.5" class="xl" text-anchor="middle">200</text>
<text x="295.82" y="568.5" class="xl" text-anchor="middle">240</text>
<text x="338.45" y="568.5" class="xl" text-anchor="middle">280</text>
<text x="380.39" y="568.5" class="xl" text-anchor="middle">320</text>
<text x="422.83" y="568.5" class="xl" text-anchor="middle">360</text>
<text x="465.66" y="568.5" class="xl" text-anchor="middle">400</text>
<text x="510" y="568.5" class="xl" text-anchor="middle">440</text>
<text x="0.6" y="475.9" class="pl">I</text>
<text x="240" y="472.9" class="rt" style="font-size:10.6px" text-anchor="middle">189</text>
<text x="148.8" y="534" class="bl" style="font-size:7.3px" text-anchor="middle">HS-48/-46/-40/-33/-10</text>
<text x="212.4" y="516.2" class="al" style="font-size:10.5px" text-anchor="middle">&#945;</text>
<rect x="126.6" y="601" width="91.4" height="74.5" fill="#fdf2d4"/>
<rect x="126.6" y="656.88" width="23.4" height="18.62" fill="#fefaf0"/>
<rect x="208.3" y="656.88" width="9.7" height="18.62" fill="#fefcf6"/>
<line x1="40" y1="601" x2="509.5" y2="601" class="g"/>
<line x1="126.6" y1="601" x2="218" y2="601" class="gs"/>
<line x1="40" y1="619.62" x2="509.5" y2="619.62" class="g"/>
<line x1="126.6" y1="619.62" x2="218" y2="619.62" class="gs"/>
<line x1="40" y1="638.25" x2="509.5" y2="638.25" class="g"/>
<line x1="126.6" y1="638.25" x2="218" y2="638.25" class="gs"/>
<line x1="40" y1="656.88" x2="509.5" y2="656.88" class="g"/>
<line x1="126.6" y1="656.88" x2="218" y2="656.88" class="gs"/>
<line x1="39.6" y1="600.4" x2="39.6" y2="676.1" class="g" style="stroke-width:1.2"/>
<line x1="509.5" y1="600.4" x2="509.5" y2="676.1" class="g" style="stroke-width:1.2"/>
<line x1="40" y1="675.5" x2="509.5" y2="675.5" class="g"/>
<line x1="40" y1="675.5" x2="40" y2="678.7" class="t"/>
<line x1="61.32" y1="675.5" x2="61.32" y2="678.7" class="t"/>
<line x1="82.64" y1="675.5" x2="82.64" y2="678.7" class="t"/>
<line x1="103.95" y1="675.5" x2="103.95" y2="678.7" class="t"/>
<line x1="125.27" y1="675.5" x2="125.27" y2="678.7" class="t"/>
<line x1="146.59" y1="675.5" x2="146.59" y2="678.7" class="t"/>
<line x1="167.91" y1="675.5" x2="167.91" y2="678.7" class="t"/>
<line x1="189.23" y1="675.5" x2="189.23" y2="678.7" class="t"/>
<line x1="210.55" y1="675.5" x2="210.55" y2="678.7" class="t"/>
<line x1="231.86" y1="675.5" x2="231.86" y2="678.7" class="t"/>
<line x1="253.18" y1="675.5" x2="253.18" y2="678.7" class="t"/>
<line x1="274.5" y1="675.5" x2="274.5" y2="678.7" class="t"/>
<line x1="295.82" y1="675.5" x2="295.82" y2="678.7" class="t"/>
<line x1="317.14" y1="675.5" x2="317.14" y2="678.7" class="t"/>
<line x1="338.45" y1="675.5" x2="338.45" y2="678.7" class="t"/>
<line x1="359.77" y1="675.5" x2="359.77" y2="678.7" class="t"/>
<line x1="381.09" y1="675.5" x2="381.09" y2="678.7" class="t"/>
<line x1="402.41" y1="675.5" x2="402.41" y2="678.7" class="t"/>
<line x1="423.73" y1="675.5" x2="423.73" y2="678.7" class="t"/>
<line x1="445.05" y1="675.5" x2="445.05" y2="678.7" class="t"/>
<line x1="466.36" y1="675.5" x2="466.36" y2="678.7" class="t"/>
<line x1="487.68" y1="675.5" x2="487.68" y2="678.7" class="t"/>
<line x1="509" y1="675.5" x2="509" y2="678.7" class="t"/>
<line x1="451.3" y1="603.5" x2="451.3" y2="675.5" class="d" stroke-dasharray="4.4 2.8" stroke-dashoffset="0"/>
<rect x="82.4" y="673.6" width="4.3" height="1.9" fill="#2a2a2a"/>
<rect x="86.7" y="673.1" width="4.75" height="2.4" fill="#5a0a0e"/>
<rect x="87.9" y="674.1" width="2.35" height="0.8" fill="#c01020"/>
<rect x="126" y="673.1" width="4.3" height="2.4" fill="#2a2a2a"/>
<rect x="130.3" y="672.1" width="4.75" height="3.4" fill="#5a0a0e"/>
<rect x="131.5" y="673.1" width="2.35" height="1.8" fill="#c01020"/>
<rect x="136.8" y="672.6" width="4.3" height="2.9" fill="#2a2a2a"/>
<rect x="141.5" y="671" width="3.95" height="4.5" class="rb"/>
<rect x="147.6" y="672.6" width="4.3" height="2.9" fill="#2a2a2a"/>
<rect x="151.9" y="672.1" width="4.75" height="3.4" fill="#5a0a0e"/>
<rect x="153.1" y="673.1" width="2.35" height="1.8" fill="#c01020"/>
<rect x="159" y="672.6" width="4.3" height="2.9" fill="#2a2a2a"/>
<rect x="163.3" y="673.1" width="4.75" height="2.4" fill="#5a0a0e"/>
<rect x="164.5" y="674.1" width="2.35" height="0.8" fill="#c01020"/>
<rect x="173.8" y="673.1" width="4.3" height="2.4" fill="#2a2a2a"/>
<rect x="178.1" y="673.1" width="4.75" height="2.4" fill="#5a0a0e"/>
<rect x="179.3" y="674.1" width="2.35" height="0.8" fill="#c01020"/>
<rect x="208.8" y="669.8" width="3.5" height="5.7" class="gb"/>
<rect x="213.1" y="670.5" width="3.95" height="5" class="rb"/>
<rect x="237.1" y="673.6" width="4.3" height="1.9" fill="#2a2a2a"/>
<rect x="241.4" y="671.9" width="4.75" height="3.6" fill="#5a0a0e"/>
<rect x="242.6" y="672.9" width="2.35" height="2" fill="#c01020"/>
<rect x="271.2" y="671.6" width="4.3" height="3.9" fill="#2a2a2a"/>
<rect x="275.5" y="671.6" width="4.75" height="3.9" fill="#5a0a0e"/>
<rect x="276.7" y="672.6" width="2.35" height="2.3" fill="#c01020"/>
<rect x="471.4" y="669" width="3.5" height="6.5" class="gb"/>
<rect x="475.3" y="673.1" width="4.75" height="2.4" fill="#5a0a0e"/>
<rect x="476.5" y="674.1" width="2.35" height="0.8" fill="#c01020"/>
<rect x="498.5" y="672.1" width="4.3" height="3.4" fill="#2a2a2a"/>
<rect x="503.2" y="670" width="3.95" height="5.5" class="rb"/>
<text x="37" y="679.6" class="yl" text-anchor="end">0</text>
<text x="37" y="660.98" class="yl" text-anchor="end">50</text>
<text x="37" y="642.35" class="yl" text-anchor="end">100</text>
<text x="37" y="623.73" class="yl" text-anchor="end">150</text>
<text x="37" y="605.1" class="yl" text-anchor="end">200</text>
<text x="84.44" y="687.7" class="xl" text-anchor="middle">40</text>
<text x="124.57" y="687.7" class="xl" text-anchor="middle">80</text>
<text x="171.71" y="687.7" class="xl" text-anchor="middle">120</text>
<text x="215.15" y="687.7" class="xl" text-anchor="middle">160</text>
<text x="254.18" y="687.7" class="xl" text-anchor="middle">200</text>
<text x="295.82" y="687.7" class="xl" text-anchor="middle">240</text>
<text x="338.45" y="687.7" class="xl" text-anchor="middle">280</text>
<text x="380.39" y="687.7" class="xl" text-anchor="middle">320</text>
<text x="422.83" y="687.7" class="xl" text-anchor="middle">360</text>
<text x="465.66" y="687.7" class="xl" text-anchor="middle">400</text>
<text x="510" y="687.7" class="xl" text-anchor="middle">440</text>
<text x="0.6" y="594.2" class="pl">J</text>
<text x="451.2" y="591.8" class="rt" style="font-size:10.6px" text-anchor="middle">380</text>
<text x="148.5" y="665.3" class="bl" style="font-size:7.3px" text-anchor="middle">HS-48/-46/-40/-33/-10</text>
<text x="213.7" y="664.2" class="al" style="font-size:10.5px" text-anchor="middle">&#945;</text>
</svg>
</body></html>
